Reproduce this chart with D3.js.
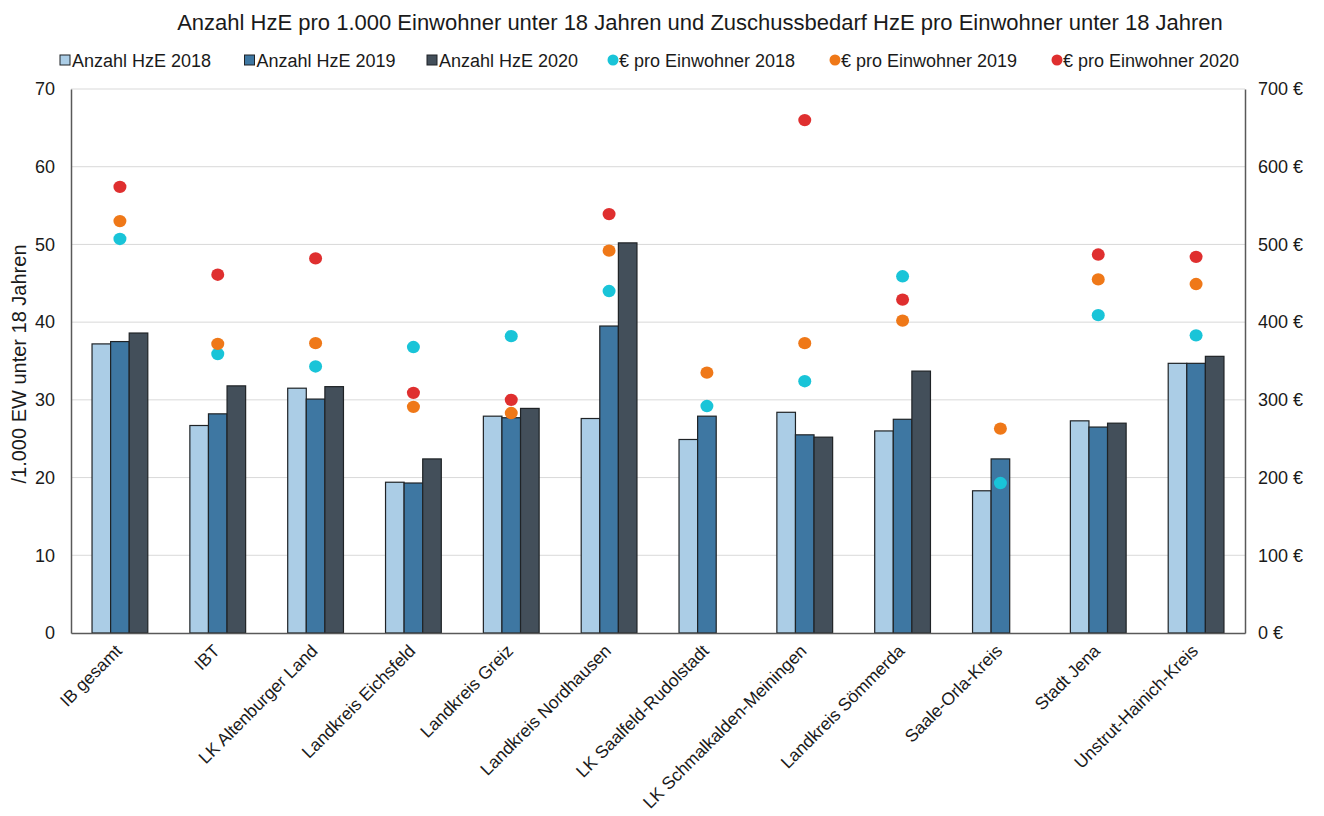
<!DOCTYPE html>
<html>
<head>
<meta charset="utf-8">
<script src="https://cdn.jsdelivr.net/npm/d3@7"></script>
<style>
  html, body { margin: 0; padding: 0; background: #fff; }
  svg text { font-family: Arial, "Liberation Sans", sans-serif; fill: #1a1a1a; }
</style>
</head>
<body>
<svg id="chart" width="1324" height="816"></svg>
<script>
// Kategorien (Jugendamtsbereiche)
const categories = [
  "IB gesamt", "IBT", "LK Altenburger Land", "Landkreis Eichsfeld",
  "Landkreis Greiz", "Landkreis Nordhausen", "LK Saalfeld-Rudolstadt",
  "LK Schmalkalden-Meiningen", "Landkreis Sömmerda", "Saale-Orla-Kreis",
  "Stadt Jena", "Unstrut-Hainich-Kreis"
];

// Anzahl HzE pro 1.000 Einwohner unter 18 Jahren
const hze2018 = [37.2, 26.7, 31.5, 19.4, 27.9, 27.6, 24.9, 28.4, 26.0, 18.3, 27.3, 34.7];
const hze2019 = [37.5, 28.2, 30.1, 19.3, 27.7, 39.5, 27.9, 25.5, 27.5, 22.4, 26.5, 34.7];
const hze2020 = [38.6, 31.8, 31.7, 22.4, 28.9, 50.2, null, 25.2, 33.7, null, 27.0, 35.6];

// Zuschussbedarf HzE in € pro Einwohner unter 18 Jahren
const eur2018 = [507, 359, 343, 368, 382, 440, 292, 324, 459, 193, 409, 383];
const eur2019 = [530, 372, 373, 291, 283, 492, 335, 373, 402, 263, 455, 449];
const eur2020 = [574, 461, 482, 309, 300, 539, null, 660, 429, null, 487, 484];

// Achsenbeschriftungen
const leftTicks = [0, 10, 20, 30, 40, 50, 60, 70];
const rightTicks = [0, 100, 200, 300, 400, 500, 600, 700];

const title = "Anzahl HzE pro 1.000 Einwohner unter 18 Jahren und Zuschussbedarf HzE pro Einwohner unter 18 Jahren";
const yLabel = "/1.000 EW unter 18 Jahren";

const barSeries = [
  { name: "Anzahl HzE 2018", values: hze2018, color: "#abcde6" },
  { name: "Anzahl HzE 2019", values: hze2019, color: "#3e77a2" },
  { name: "Anzahl HzE 2020", values: hze2020, color: "#434f5a" }
];
const dotSeries = [
  { name: "€ pro Einwohner 2018", values: eur2018, color: "#19c4d8" },
  { name: "€ pro Einwohner 2019", values: eur2019, color: "#ef7818" },
  { name: "€ pro Einwohner 2020", values: eur2020, color: "#df2f2f" }
];

const svg = d3.select("#chart");
const margin = { left: 71, right: 1245, top: 89, bottom: 633 };

const x = d3.scaleBand().domain(categories).range([margin.left, margin.right]).paddingInner(0.43).paddingOuter(0.215);
const xGroup = d3.scaleBand().domain(barSeries.map(d => d.name)).range([0, x.bandwidth()]);
const yLeft = d3.scaleLinear().domain([0, 70]).range([margin.bottom, margin.top]);
const yRight = d3.scaleLinear().domain([0, 700]).range([margin.bottom, margin.top]);

// Gitternetzlinien
svg.append("g")
  .selectAll("line")
  .data(leftTicks.filter(t => t > 0))
  .join("line")
  .attr("x1", margin.left).attr("x2", margin.right)
  .attr("y1", d => yLeft(d)).attr("y2", d => yLeft(d))
  .attr("stroke", "#d9d9d9").attr("stroke-width", 1);

// Balken
const groups = svg.append("g").selectAll("g")
  .data(barSeries)
  .join("g");
groups.selectAll("rect")
  .data(s => s.values.map((v, i) => ({ v, cat: categories[i], s })).filter(d => d.v != null))
  .join("rect")
  .attr("x", d => x(d.cat) + xGroup(d.s.name))
  .attr("width", xGroup.bandwidth())
  .attr("y", d => yLeft(d.v))
  .attr("height", d => yLeft(0) - yLeft(d.v))
  .attr("fill", d => d.s.color)
  .attr("stroke", "#1f2326")
  .attr("stroke-width", 1.2);

// Punkte (rechte Achse)
const dotGroups = svg.append("g").selectAll("g")
  .data(dotSeries)
  .join("g");
dotGroups.selectAll("ellipse")
  .data(s => s.values.map((v, i) => ({ v, cat: categories[i], s })).filter(d => d.v != null))
  .join("ellipse")
  .attr("cx", d => x(d.cat) + x.bandwidth() / 2)
  .attr("cy", d => yRight(d.v))
  .attr("rx", 6.5).attr("ry", 6.2)
  .attr("fill", d => d.s.color);

// Achsen
const axisColor = "#595959";
const leftAxis = svg.append("g")
  .attr("transform", `translate(${margin.left},0)`)
  .call(d3.axisLeft(yLeft).tickValues(leftTicks).tickSize(0).tickPadding(16));
const rightAxis = svg.append("g")
  .attr("transform", `translate(${margin.right},0)`)
  .call(d3.axisRight(yRight).tickValues(rightTicks).tickSize(0).tickPadding(13)
    .tickFormat(d => d + " €"));
const bottomAxis = svg.append("g")
  .attr("transform", `translate(0,${margin.bottom})`)
  .call(d3.axisBottom(x).tickSize(0).tickSizeOuter(0).tickFormat(""));

[leftAxis, rightAxis, bottomAxis].forEach(a => {
  a.select(".domain").attr("stroke", axisColor).attr("stroke-width", 1.5);
  a.selectAll("text").attr("font-size", 18).attr("fill", "#1a1a1a")
    .attr("font-family", "Arial, 'Liberation Sans', sans-serif");
});

// Kategorienbeschriftung, um 45° gedreht
svg.append("g").selectAll("text")
  .data(categories)
  .join("text")
  .attr("transform", d => `translate(${x(d) + x.bandwidth() / 2 + 3},${margin.bottom + 19}) rotate(-45)`)
  .attr("text-anchor", "end")
  .attr("font-size", 17.5)
  .text(d => d);

// Titel der linken Achse
svg.append("text")
  .attr("transform", `translate(26,${(margin.top + margin.bottom) / 2 + 3}) rotate(-90)`)
  .attr("text-anchor", "middle")
  .attr("font-size", 20)
  .text(yLabel);

// Diagrammtitel
svg.append("text")
  .attr("x", 700).attr("y", 30)
  .attr("text-anchor", "middle")
  .attr("font-size", 22)
  .text(title);

// Legende
const legendItems = [
  ...barSeries.map((s, i) => ({ ...s, type: "bar", x: [65, 249.5, 432][i] })),
  ...dotSeries.map((s, i) => ({ ...s, type: "dot", x: [613, 835, 1057][i] }))
];
const legend = svg.append("g").selectAll("g")
  .data(legendItems)
  .join("g")
  .attr("transform", d => `translate(${d.x},60)`);
legend.filter(d => d.type === "bar").append("rect")
  .attr("x", -5).attr("y", -5).attr("width", 10).attr("height", 10)
  .attr("fill", d => d.color).attr("stroke", "#1f2326").attr("stroke-width", 1);
legend.filter(d => d.type === "dot").append("circle")
  .attr("r", 5.5).attr("fill", d => d.color);
legend.append("text")
  .attr("x", d => d.type === "bar" ? 7 : 6).attr("y", 6.5)
  .attr("font-size", 18)
  .text(d => d.name);
</script>
</body>
</html>
